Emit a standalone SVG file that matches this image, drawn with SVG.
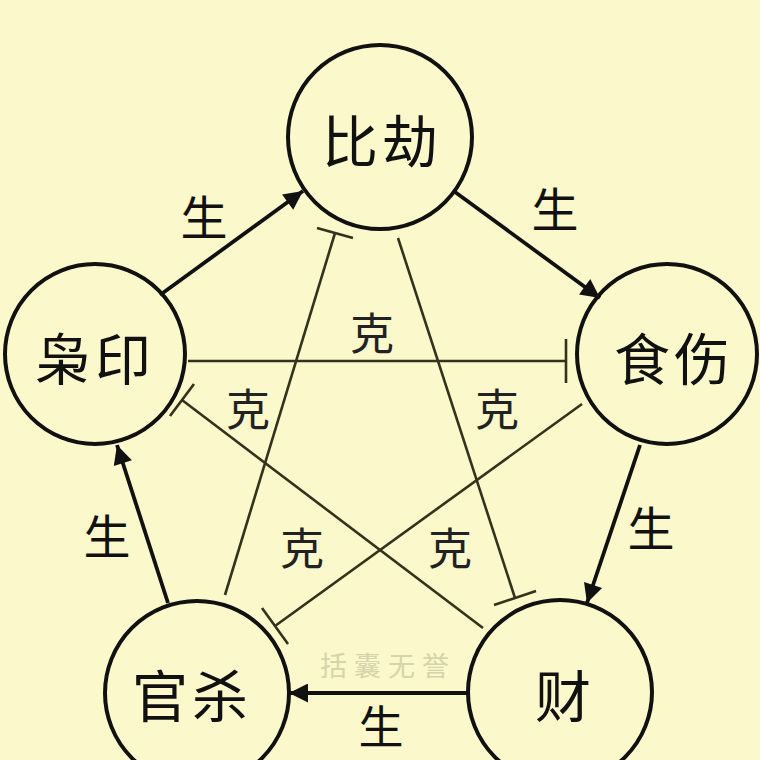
<svg xmlns="http://www.w3.org/2000/svg" width="760" height="760" viewBox="0 0 760 760">
<style>
.node{fill:none;stroke:#111;stroke-width:4}
.lbl{font-family:"Noto Sans CJK SC","Noto Sans CJK JP",sans-serif;font-size:56px;fill:#111;text-anchor:middle;dominant-baseline:central;letter-spacing:4px}
.sheng{font-family:"Noto Sans CJK SC","Noto Sans CJK JP",sans-serif;font-size:47px;fill:#111;text-anchor:middle;dominant-baseline:central}
.ke{font-family:"Noto Sans CJK SC","Noto Sans CJK JP",sans-serif;font-size:44px;fill:#222;text-anchor:middle;dominant-baseline:central}
.gen{stroke:#111;stroke-width:3.8;fill:none;marker-end:url(#ah)}
.ctl{stroke:#33321c;stroke-width:2.6;fill:none}
.wm{font-family:"Noto Sans CJK SC","Noto Sans CJK JP",sans-serif;font-size:27px;fill:#d6d4ab;text-anchor:middle;dominant-baseline:central;letter-spacing:7px}
</style>
<defs>
<marker id="ah" viewBox="0 0 10 10" refX="10" refY="5" markerWidth="7" markerHeight="5" markerUnits="strokeWidth" orient="auto">
<path d="M0,0 L10,5 L0,10 Z" fill="#111"/>
</marker>
</defs>
<rect width="760" height="760" fill="#fbf8cb"/>
<text class="wm" x="388" y="664">括囊无誉</text>
<g id="connectors">
<line class="gen" x1="160" y1="295" x2="303" y2="191"/>
<line class="gen" x1="455" y1="192" x2="600" y2="298"/>
<line class="gen" x1="640" y1="445" x2="587" y2="603"/>
<line class="gen" x1="468" y1="693" x2="289" y2="693"/>
<line class="gen" x1="168" y1="603" x2="117" y2="445"/>
<line class="ctl" x1="188" y1="361" x2="566" y2="361"/>
<line class="ctl" x1="566" y1="339" x2="566" y2="383"/>
<line class="ctl" x1="225" y1="595" x2="335" y2="233"/>
<line class="ctl" x1="317" y1="228" x2="353" y2="238"/>
<line class="ctl" x1="398" y1="238" x2="515" y2="598"/>
<line class="ctl" x1="494" y1="605" x2="536" y2="591"/>
<line class="ctl" x1="582" y1="404" x2="275" y2="626"/>
<line class="ctl" x1="262" y1="608" x2="288" y2="644"/>
<line class="ctl" x1="483" y1="628" x2="182" y2="400"/>
<line class="ctl" x1="170" y1="416" x2="194" y2="384"/>
<text class="sheng" x="204" y="214">生</text>
<text class="sheng" x="555" y="206">生</text>
<text class="sheng" x="651" y="525">生</text>
<text class="sheng" x="381" y="724" style="font-size:45px">生</text>
<text class="sheng" x="107" y="533">生</text>
<text class="ke" x="372" y="331">克</text>
<text class="ke" x="248" y="407">克</text>
<text class="ke" x="497" y="407">克</text>
<text class="ke" x="302" y="546">克</text>
<text class="ke" x="450" y="546">克</text>
</g>
<g id="bijie"><circle class="node" cx="380" cy="137" r="92"/><text class="lbl" x="382" y="137">比劫</text></g>
<g id="shishang"><circle class="node" cx="667" cy="354" r="90"/><text class="lbl" x="674" y="355">食伤</text></g>
<g id="cai"><circle class="node" cx="560" cy="692" r="92"/><text class="lbl" x="565" y="692">财</text></g>
<g id="guansha"><circle class="node" cx="197" cy="693" r="92"/><text class="lbl" x="192" y="692">官杀</text></g>
<g id="xiaoyin"><circle class="node" cx="95" cy="354" r="90"/><text class="lbl" x="95" y="355">枭印</text></g>
</svg>
